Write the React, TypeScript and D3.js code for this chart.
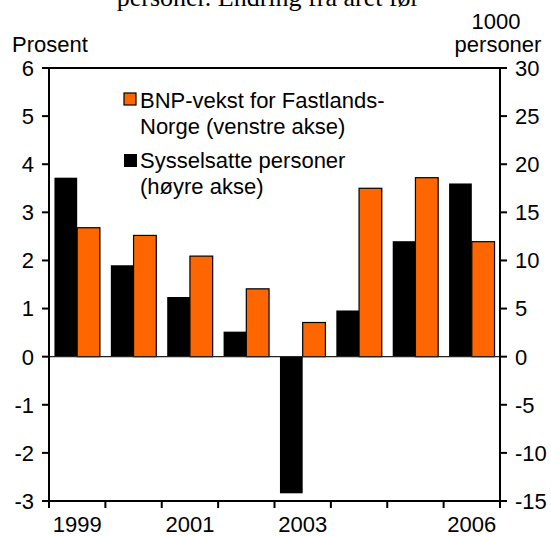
import React from "react";
import * as d3 from "d3";

const width = 551;
const height = 536;
const margin = { top: 68, right: 51, bottom: 35, left: 49 };

// data
const years = ["1999", "2000", "2001", "2002", "2003", "2004", "2005", "2006"];
const bnpGrowth = [2.68, 2.52, 2.09, 1.41, 0.71, 3.5, 3.72, 2.39]; // prosent, venstre akse
const employed = [18.6, 9.5, 6.2, 2.6, -14.2, 4.8, 12.0, 18.0]; // 1000 personer, høyre akse
const yearLabels = ["1999", "2001", "2003", "2006"];
const leftTicks = [-3, -2, -1, 0, 1, 2, 3, 4, 5, 6];
const rightTicks = [-15, -10, -5, 0, 5, 10, 15, 20, 25, 30];

const orange = "#FF6600";
const font = "Liberation Sans, Arial, sans-serif";
const fs = 22;

const App = () => {
  const x0 = margin.left;
  const x1 = width - margin.right;
  const y0 = margin.top;
  const y1 = height - margin.bottom;

  const xScale = d3.scaleBand().domain(years).range([x0, x1]).padding(0);
  const inner = d3
    .scaleBand()
    .domain(["sys", "bnp"])
    .range([0, xScale.bandwidth()])
    .paddingInner(0)
    .paddingOuter(0.24);
  const yLeft = d3.scaleLinear().domain([-3, 6]).range([y1, y0]);
  const yRight = d3.scaleLinear().domain([-15, 30]).range([y1, y0]);

  // tick marks on x sit at the band edges
  const xEdges = years.map((y) => xScale(y)!).concat([x1]);

  return (
    <svg
      width={width}
      height={height}
      style={{ position: "absolute", left: 0, top: 0, background: "#fff" }}
      fontFamily={font}
    >
      <text
        x={268}
        y={6}
        textAnchor="middle"
        fontFamily="Liberation Serif, Times New Roman, serif"
        fontSize={26}
      >
        personer. Endring fra året før
      </text>

      {/* bars */}
      {years.map((yr, i) => {
        const bx = xScale(yr)!;
        const e = employed[i];
        const b = bnpGrowth[i];
        return (
          <g key={yr}>
            <rect
              x={bx + inner("sys")!}
              y={Math.min(yRight(e), yRight(0))}
              width={inner.bandwidth()}
              height={Math.abs(yRight(e) - yRight(0))}
              fill="#000"
            />
            <rect
              x={bx + inner("bnp")!}
              y={Math.min(yLeft(b), yLeft(0))}
              width={inner.bandwidth()}
              height={Math.abs(yLeft(b) - yLeft(0))}
              fill={orange}
              stroke="#000"
              strokeWidth={1.2}
            />
          </g>
        );
      })}

      {/* zero line */}
      <line x1={x0} x2={x1} y1={yLeft(0)} y2={yLeft(0)} stroke="#222" strokeWidth={1.2} />

      {/* frame */}
      <rect x={x0} y={y0} width={x1 - x0} height={y1 - y0} fill="none" stroke="#000" strokeWidth={2} />

      {/* left axis */}
      {leftTicks.map((t) => (
        <g key={"l" + t}>
          <line x1={x0 - 7} x2={x0} y1={yLeft(t)} y2={yLeft(t)} stroke="#000" strokeWidth={2} />
          <text x={34} y={yLeft(t)} dy="0.36em" textAnchor="end" fontSize={fs}>
            {t}
          </text>
        </g>
      ))}

      {/* right axis */}
      {rightTicks.map((t) => (
        <g key={"r" + t}>
          <line x1={x1} x2={x1 + 7} y1={yRight(t)} y2={yRight(t)} stroke="#000" strokeWidth={2} />
          <text x={515} y={yRight(t)} dy="0.36em" textAnchor="start" fontSize={fs}>
            {t}
          </text>
        </g>
      ))}

      {/* x axis ticks and labels */}
      {xEdges.map((ex, i) => (
        <line key={"x" + i} x1={ex} x2={ex} y1={y1} y2={y1 + 7} stroke="#000" strokeWidth={2} />
      ))}
      {yearLabels.map((yr) => (
        <text
          key={yr}
          x={xScale(yr)! + xScale.bandwidth() / 2}
          y={532}
          textAnchor="middle"
          fontSize={fs}
        >
          {yr}
        </text>
      ))}

      {/* axis titles */}
      <text x={12} y={52} fontSize={fs}>
        Prosent
      </text>
      <text x={496} y={29} textAnchor="middle" fontSize={fs}>
        1000
      </text>
      <text x={498} y={52} textAnchor="middle" fontSize={fs}>
        personer
      </text>

      {/* legend */}
      <rect x={124} y={93} width={12} height={12} fill={orange} stroke="#000" strokeWidth={1.2} />
      <text x={140} y={108} fontSize={fs}>
        BNP-vekst for Fastlands-
      </text>
      <text x={140} y={134} fontSize={fs}>
        Norge (venstre akse)
      </text>
      <rect x={124} y={154} width={13} height={13} fill="#000" />
      <text x={140} y={168} fontSize={fs}>
        Sysselsatte personer
      </text>
      <text x={140} y={194} fontSize={fs}>
        (høyre akse)
      </text>
    </svg>
  );
};

export default App;
